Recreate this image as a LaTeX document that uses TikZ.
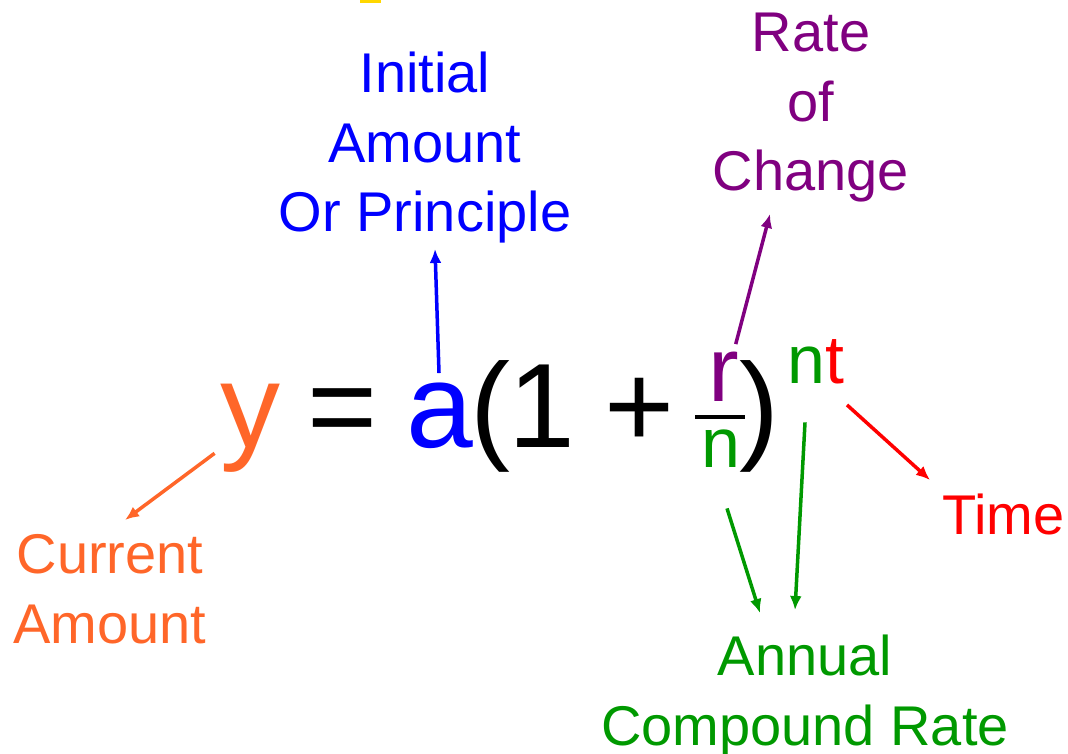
\documentclass[tikz,border=0pt]{standalone}
\usepackage{fontspec}
\setmainfont{Liberation Sans}
\usepackage{xcolor}
\usepackage{tikz}
\usetikzlibrary{arrows.meta, positioning}

\definecolor{amountorange}{RGB}{255,102,41}
\definecolor{rategreen}{RGB}{0,153,0}
\definecolor{changepurple}{RGB}{128,0,128}
\definecolor{markyellow}{RGB}{255,215,0}

\tikzset{
  big/.style={inner sep=0pt, font=\fontsize{60}{72}\selectfont},
  mid/.style={inner sep=0pt, font=\fontsize{46}{55}\selectfont},
  small/.style={inner sep=0pt, font=\fontsize{35}{42}\selectfont},
  lbl/.style={inner sep=0pt, align=center, font=\fontsize{28}{34.75}\selectfont},
  pointer/.style={-{Latex[length=7pt,width=6pt]}, line width=1.75pt}
}

\begin{document}
\begin{tikzpicture}[x=0.5pt, y=-0.5pt]

            \useasboundingbox (0,0) rectangle (1068,753);
            \fill[markyellow] (360,0) rectangle (381,3);

            % the formula
            \node[big] (y) [amountorange, anchor=base] at (250,447) {y};
            \node[big] (eq) [anchor=base] at (343,447) {=};
            \node[big] (a) [blue, anchor=base] at (440,447) {a};
            \node[big] (lp) [anchor=base] at (490,447) {(};
            \node[big] (one) [anchor=base] at (542,447) {1};
            \node[big] (plus) [anchor=base] at (640,447) {+};
            \node[mid] (r) [changepurple, anchor=base] at (724,401) {r};
            \node[small] (nden) [rategreen, anchor=base] at (721,467) {n};
            \node[big] (rp) [anchor=base] at (759,447) {)};
            \node[small, font=\fontsize{34}{41}\selectfont] (nexp) [rategreen, anchor=base] at (806,383) {n};
            \node[small, font=\fontsize{34}{41}\selectfont] (texp) [red, base right=0pt of nexp] {t};

            \draw[line width=2pt] (695,417) -- (745,417);

            % what the letters mean
            \node[lbl] (initial) [blue, anchor=north] at (425,52) {Initial\\Amount\\Or Principle};
            \node[lbl] (rate) [changepurple, anchor=north] at (811,13) {Rate\\of\\Change};
            \node[lbl] (current) [amountorange, anchor=north] at (110,534) {Current\\Amount};
            \node[lbl] (time) [red, anchor=base west] at (942,534) {Time};
            \node[lbl] (annual) [rategreen, anchor=north] at (805,635) {Annual\\Compound Rate};

            \path[pointer]
            ([shift={(-5,-19)}]y.south west) edge [amountorange] ([shift={(15,-14)}]current.north)
            ([shift={(-1,-9)}]a.north) edge [blue] ([shift={(10,5)}]initial.south)
            ([shift={(-4,-7)}]r.north east) edge [changepurple] ([shift={(-41,11)}]rate.south)
            ([shift={(2,21)}]texp.south east) edge [red] ([shift={(-12,-13)}]time.north west)
            ([shift={(6,41)}]nden.south) edge [rategreen] ([shift={(-45,-22)}]annual.north)
            ([shift={(-1,39)}]nexp.south) edge [rategreen] ([shift={(-10,-25)}]annual.north);

\end{tikzpicture}
\end{document}
